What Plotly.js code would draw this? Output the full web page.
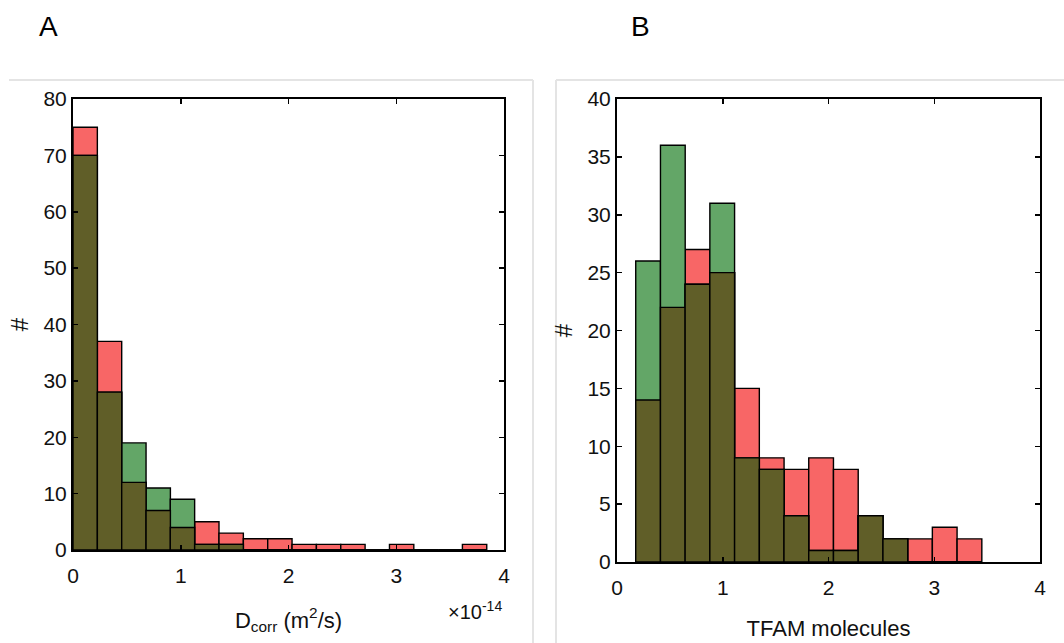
<!DOCTYPE html>
<html>
<head>
<meta charset="utf-8">
<script src="https://cdn.plot.ly/plotly-3.0.1.min.js"></script>
<style>html,body{margin:0;padding:0;background:#fff;}#chart{width:1064px;height:643px;}</style>
</head>
<body>
<div id="chart"></div>
<script>
// Panel A: D_corr histogram (x in units of 1e-14 m^2/s)
const binCentersA = [0.113, 0.339, 0.565, 0.791, 1.016, 1.242, 1.468, 1.694, 1.920, 2.146, 2.372, 2.598, 2.824, 3.050, 3.276, 3.502, 3.727];
const binWidthA = 0.2259;
const redA   = [75, 37, 12, 7, 4, 5, 3, 2, 2, 1, 1, 1, 0, 1, 0, 0, 1];
const greenA = [70, 28, 19, 11, 9, 1, 1, 0, 0, 0, 0, 0, 0, 0, 0, 0, 0];

// Panel B: TFAM molecules histogram
const binCentersB = [0.294, 0.528, 0.761, 0.995, 1.229, 1.463, 1.696, 1.930, 2.164, 2.398, 2.632, 2.865, 3.099, 3.333];
const binWidthB = 0.2338;
const redB   = [14, 22, 27, 25, 15, 9, 8, 9, 8, 4, 2, 2, 3, 2];
const greenB = [26, 36, 24, 31, 9, 8, 4, 1, 1, 4, 2, 0, 0, 0];

const xTicks = [0, 1, 2, 3, 4];
const yTicksA = [0, 10, 20, 30, 40, 50, 60, 70, 80];
const yTicksB = [0, 5, 10, 15, 20, 25, 30, 35, 40];

const RED = 'rgb(248,102,102)';
const GREEN = 'rgb(99,166,103)';
const OLIVE = 'rgb(96,94,40)';
const edge = {color: '#000', width: 1.4};

function traces(x, w, red, green, xa, ya) {
  const overlap = red.map((r, i) => Math.min(r, green[i]));
  const mk = (y, c) => ({type: 'bar', x: x, y: y, width: w, xaxis: xa, yaxis: ya,
    marker: {color: c, line: edge}, hoverinfo: 'x+y', showlegend: false});
  return [mk(red, RED), mk(green, GREEN), mk(overlap, OLIVE)];
}

const data = [
  ...traces(binCentersA, binWidthA, redA, greenA, 'x', 'y'),
  ...traces(binCentersB, binWidthB, redB, greenB, 'x2', 'y2')
];

const FONT = 'Liberation Sans, Arial, sans-serif';
const tickFont = {family: FONT, size: 21, color: '#111'};
const axisCommon = {
  showgrid: false, zeroline: false, showline: true, linecolor: '#000', linewidth: 2,
  mirror: 'ticks', ticks: 'inside', ticklen: 5, tickwidth: 1.5, tickcolor: '#000',
  tickfont: tickFont, fixedrange: true
};

const W = 1064, H = 643;
const layout = {
  width: W, height: H,
  margin: {l: 0, r: 0, t: 0, b: 0},
  paper_bgcolor: '#fff', plot_bgcolor: '#fff',
  barmode: 'overlay', bargap: 0,
  font: {family: FONT, color: '#111'},
  xaxis: Object.assign({}, axisCommon, {
    domain: [73 / W, 504 / W], range: [0, 4], tickvals: xTicks, anchor: 'y',
    ticklabelstandoff: 6,
    title: {text: 'D<sub>corr</sub> (m<sup>2</sup>/s)', font: {size: 22}, standoff: 26}
  }),
  yaxis: Object.assign({}, axisCommon, {
    domain: [1 - 550 / H, 1 - 99 / H], range: [0, 80], tickvals: yTicksA, anchor: 'x',
    title: {text: '#', font: {size: 24}, standoff: 8}
  }),
  xaxis2: Object.assign({}, axisCommon, {
    domain: [617 / W, 1040 / W], range: [0, 4], tickvals: xTicks, anchor: 'y2',
    ticklabelstandoff: 6,
    title: {text: 'TFAM molecules', font: {size: 22}, standoff: 22}
  }),
  yaxis2: Object.assign({}, axisCommon, {
    domain: [1 - 562 / H, 1 - 99 / H], range: [0, 40], tickvals: yTicksB, anchor: 'x2',
    title: {text: '#', font: {size: 24}, standoff: 8}
  }),
  annotations: [
    {text: 'A', xref: 'paper', yref: 'paper', x: 48 / W, y: 1 - 27 / H, showarrow: false,
     font: {size: 28, color: '#000'}, xanchor: 'center', yanchor: 'middle'},
    {text: 'B', xref: 'paper', yref: 'paper', x: 640 / W, y: 1 - 27 / H, showarrow: false,
     font: {size: 28, color: '#000'}, xanchor: 'center', yanchor: 'middle'},
    {text: '×10<sup>-14</sup>', xref: 'paper', yref: 'paper', x: 504 / W, y: 1 - 610 / H,
     showarrow: false, font: {size: 20, color: '#111'}, xanchor: 'right', yanchor: 'middle'}
  ],
  shapes: [
    {type: 'line', xref: 'paper', yref: 'paper', x0: 9 / W, x1: 533 / W, y0: 1 - 80 / H, y1: 1 - 80 / H,
     line: {color: '#e4e4e4', width: 2}},
    {type: 'line', xref: 'paper', yref: 'paper', x0: 533 / W, x1: 533 / W, y0: 1 - 80 / H, y1: 0,
     line: {color: '#e4e4e4', width: 2}},
    {type: 'line', xref: 'paper', yref: 'paper', x0: 556 / W, x1: 1, y0: 1 - 80 / H, y1: 1 - 80 / H,
     line: {color: '#e4e4e4', width: 2}},
    {type: 'line', xref: 'paper', yref: 'paper', x0: 556 / W, x1: 556 / W, y0: 1 - 80 / H, y1: 0,
     line: {color: '#e4e4e4', width: 2}}
  ]
};

Plotly.newPlot('chart', data, layout, {staticPlot: true, displayModeBar: false});
</script>
</body>
</html>
